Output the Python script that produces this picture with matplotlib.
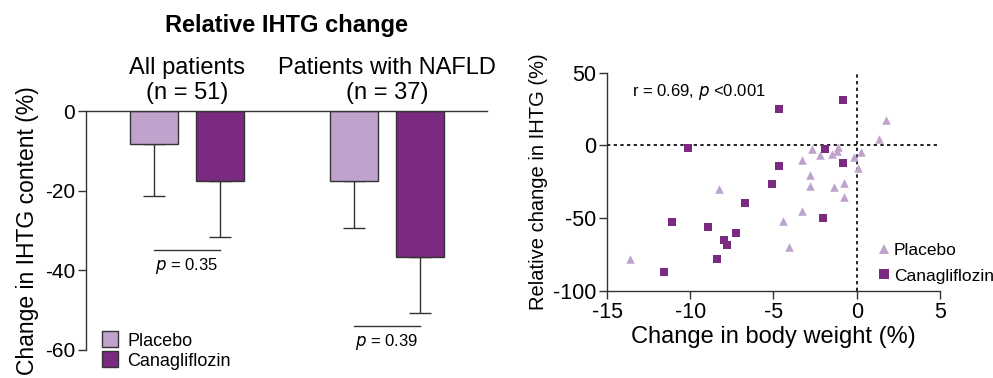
import matplotlib
matplotlib.use("Agg")
import matplotlib.pyplot as plt
from matplotlib.patches import Patch
from matplotlib.lines import Line2D

plt.rcParams["font.family"] = ["Liberation Sans", "DejaVu Sans"]
plt.rcParams["axes.unicode_minus"] = False

PLACEBO_COLOR = "#c0a3cd"
CANA_COLOR = "#7a2a80"
EDGE = "#333333"

# bar panel data
groups = ["All patients\n(n = 51)", "Patients with NAFLD\n(n = 37)"]
placebo_mean = [-8.3, -17.5]
placebo_err = [13.0, 11.9]
cana_mean = [-17.5, -36.7]
cana_err = [14.2, 14.0]
p_labels = ["0.35", "0.39"]
p_line_y = [-35.0, -54.0]

# scatter panel data (change in body weight %, relative change in IHTG %)
placebo_x = [1.76, 1.36, -2.68, -2.2, -1.14, -1.2, -1.48, -0.14, 0.26, 0.08, -3.3,
             -2.8, -2.8, -1.34, -0.74, -0.78, -8.28, -3.28, -4.44, -4.08, -13.64]
placebo_y = [17.7, 4.6, -2.5, -6.4, -1.1, -4.1, -6.2, -8.0, -4.8, -15.9, -9.9,
             -20.2, -27.8, -28.7, -26.0, -35.6, -29.9, -45.5, -52.2, -69.7, -78.4]
cana_x = [-0.8, -4.64, -10.16, -1.88, -0.8, -4.68, -5.08, -6.74, -11.08, -8.96,
          -2.04, -7.28, -8.0, -7.82, -8.42, -11.6]
cana_y = [31.0, 24.8, -2.1, -2.8, -12.0, -14.3, -26.9, -39.8, -52.4, -55.9,
          -50.3, -60.0, -65.0, -68.7, -77.9, -86.9]

fig = plt.figure(figsize=(9.93, 3.78), dpi=100)

# ---- left: bar chart ----
ax = fig.add_axes([0.0866, 0.0741, 0.4038, 0.6322])
offset = 0.167
width = 0.24
for i in range(len(groups)):
    ax.bar(i - offset, placebo_mean[i], width, color=PLACEBO_COLOR,
           edgecolor=EDGE, linewidth=1.0, zorder=2)
    ax.bar(i + offset, cana_mean[i], width, color=CANA_COLOR,
           edgecolor=EDGE, linewidth=1.0, zorder=2)
    ax.errorbar(i - offset, placebo_mean[i], yerr=[[placebo_err[i]], [0]],
                fmt="none", ecolor=EDGE, elinewidth=1.0, capsize=8, capthick=1.0,
                zorder=1)
    ax.errorbar(i + offset, cana_mean[i], yerr=[[cana_err[i]], [0]],
                fmt="none", ecolor=EDGE, elinewidth=1.0, capsize=8, capthick=1.0,
                zorder=1)
    ax.plot([i - offset, i + offset], [p_line_y[i], p_line_y[i]],
            color=EDGE, linewidth=1.0)
    ax.text(i, p_line_y[i] - 3.9, f"$p$ = {p_labels[i]}", ha="center",
            va="center", fontsize=12)
    ax.text(i, 7.6, groups[i], ha="center", va="center", fontsize=17,
            linespacing=1.2)

ax.set_xlim(-0.505, 1.5)
ax.set_ylim(-60, 0)
ax.set_yticks([0, -20, -40, -60])
ax.set_xticks([])
ax.spines["right"].set_visible(False)
ax.spines["bottom"].set_visible(False)
for s in ("left", "top"):
    ax.spines[s].set_color(EDGE)
    ax.spines[s].set_linewidth(1.0)
ax.tick_params(axis="y", labelsize=15, length=6, width=1.0, color=EDGE, pad=2)
ax.set_ylabel("Change in IHTG content (%)", fontsize=16.5, labelpad=4)
ax.text(0.5, 21.5, "Relative IHTG change", ha="center", va="center",
        fontsize=17, fontweight="bold")
ax.legend(handles=[Patch(facecolor=PLACEBO_COLOR, edgecolor=EDGE, label="Placebo"),
                   Patch(facecolor=CANA_COLOR, edgecolor=EDGE, label="Canagliflozin")],
          loc="lower left", bbox_to_anchor=(0.0, -0.15), frameon=False,
          fontsize=13, handlelength=0.9, handleheight=1.0, handletextpad=0.5,
          labelspacing=0.1)

# ---- right: scatter ----
ax2 = fig.add_axes([0.6113, 0.2310, 0.3353, 0.5767])
ax2.axhline(0, color="black", linewidth=1.2, linestyle=(0, (2, 2)), zorder=1)
ax2.axvline(0, color="black", linewidth=1.2, linestyle=(0, (2, 2)), zorder=1)
ax2.scatter(placebo_x, placebo_y, marker="^", s=38, color=PLACEBO_COLOR,
            linewidths=0, zorder=3)
ax2.scatter(cana_x, cana_y, marker="s", s=30, color=CANA_COLOR,
            linewidths=0, zorder=3)
ax2.set_xlim(-15, 5)
ax2.set_ylim(-100, 50)
ax2.set_xticks([-15, -10, -5, 0, 5])
ax2.set_yticks([50, 0, -50, -100])
ax2.spines["right"].set_visible(False)
ax2.spines["top"].set_visible(False)
for s in ("left", "bottom"):
    ax2.spines[s].set_color(EDGE)
    ax2.spines[s].set_linewidth(1.0)
ax2.tick_params(labelsize=15.5, length=6, width=1.0, color=EDGE, pad=2)
ax2.set_xlabel("Change in body weight (%)", fontsize=17, labelpad=2)
ax2.set_ylabel("Relative change in IHTG (%)", fontsize=14.5, labelpad=3)
ax2.text(-13.47, 36.8, "r = 0.69, $p$ <0.001", ha="left", va="center",
         fontsize=12)
ax2.legend(handles=[Line2D([], [], marker="^", linestyle="none", markersize=7,
                           markerfacecolor=PLACEBO_COLOR, markeredgewidth=0,
                           label="Placebo"),
                    Line2D([], [], marker="s", linestyle="none", markersize=6.5,
                           markerfacecolor=CANA_COLOR, markeredgewidth=0,
                           label="Canagliflozin")],
           loc="lower left", bbox_to_anchor=(0.78, -0.015), frameon=False,
           fontsize=12.5, handlelength=0.8, handletextpad=0.15, labelspacing=0.6,
           borderaxespad=0.2)

fig.savefig("out.png", dpi=100)
